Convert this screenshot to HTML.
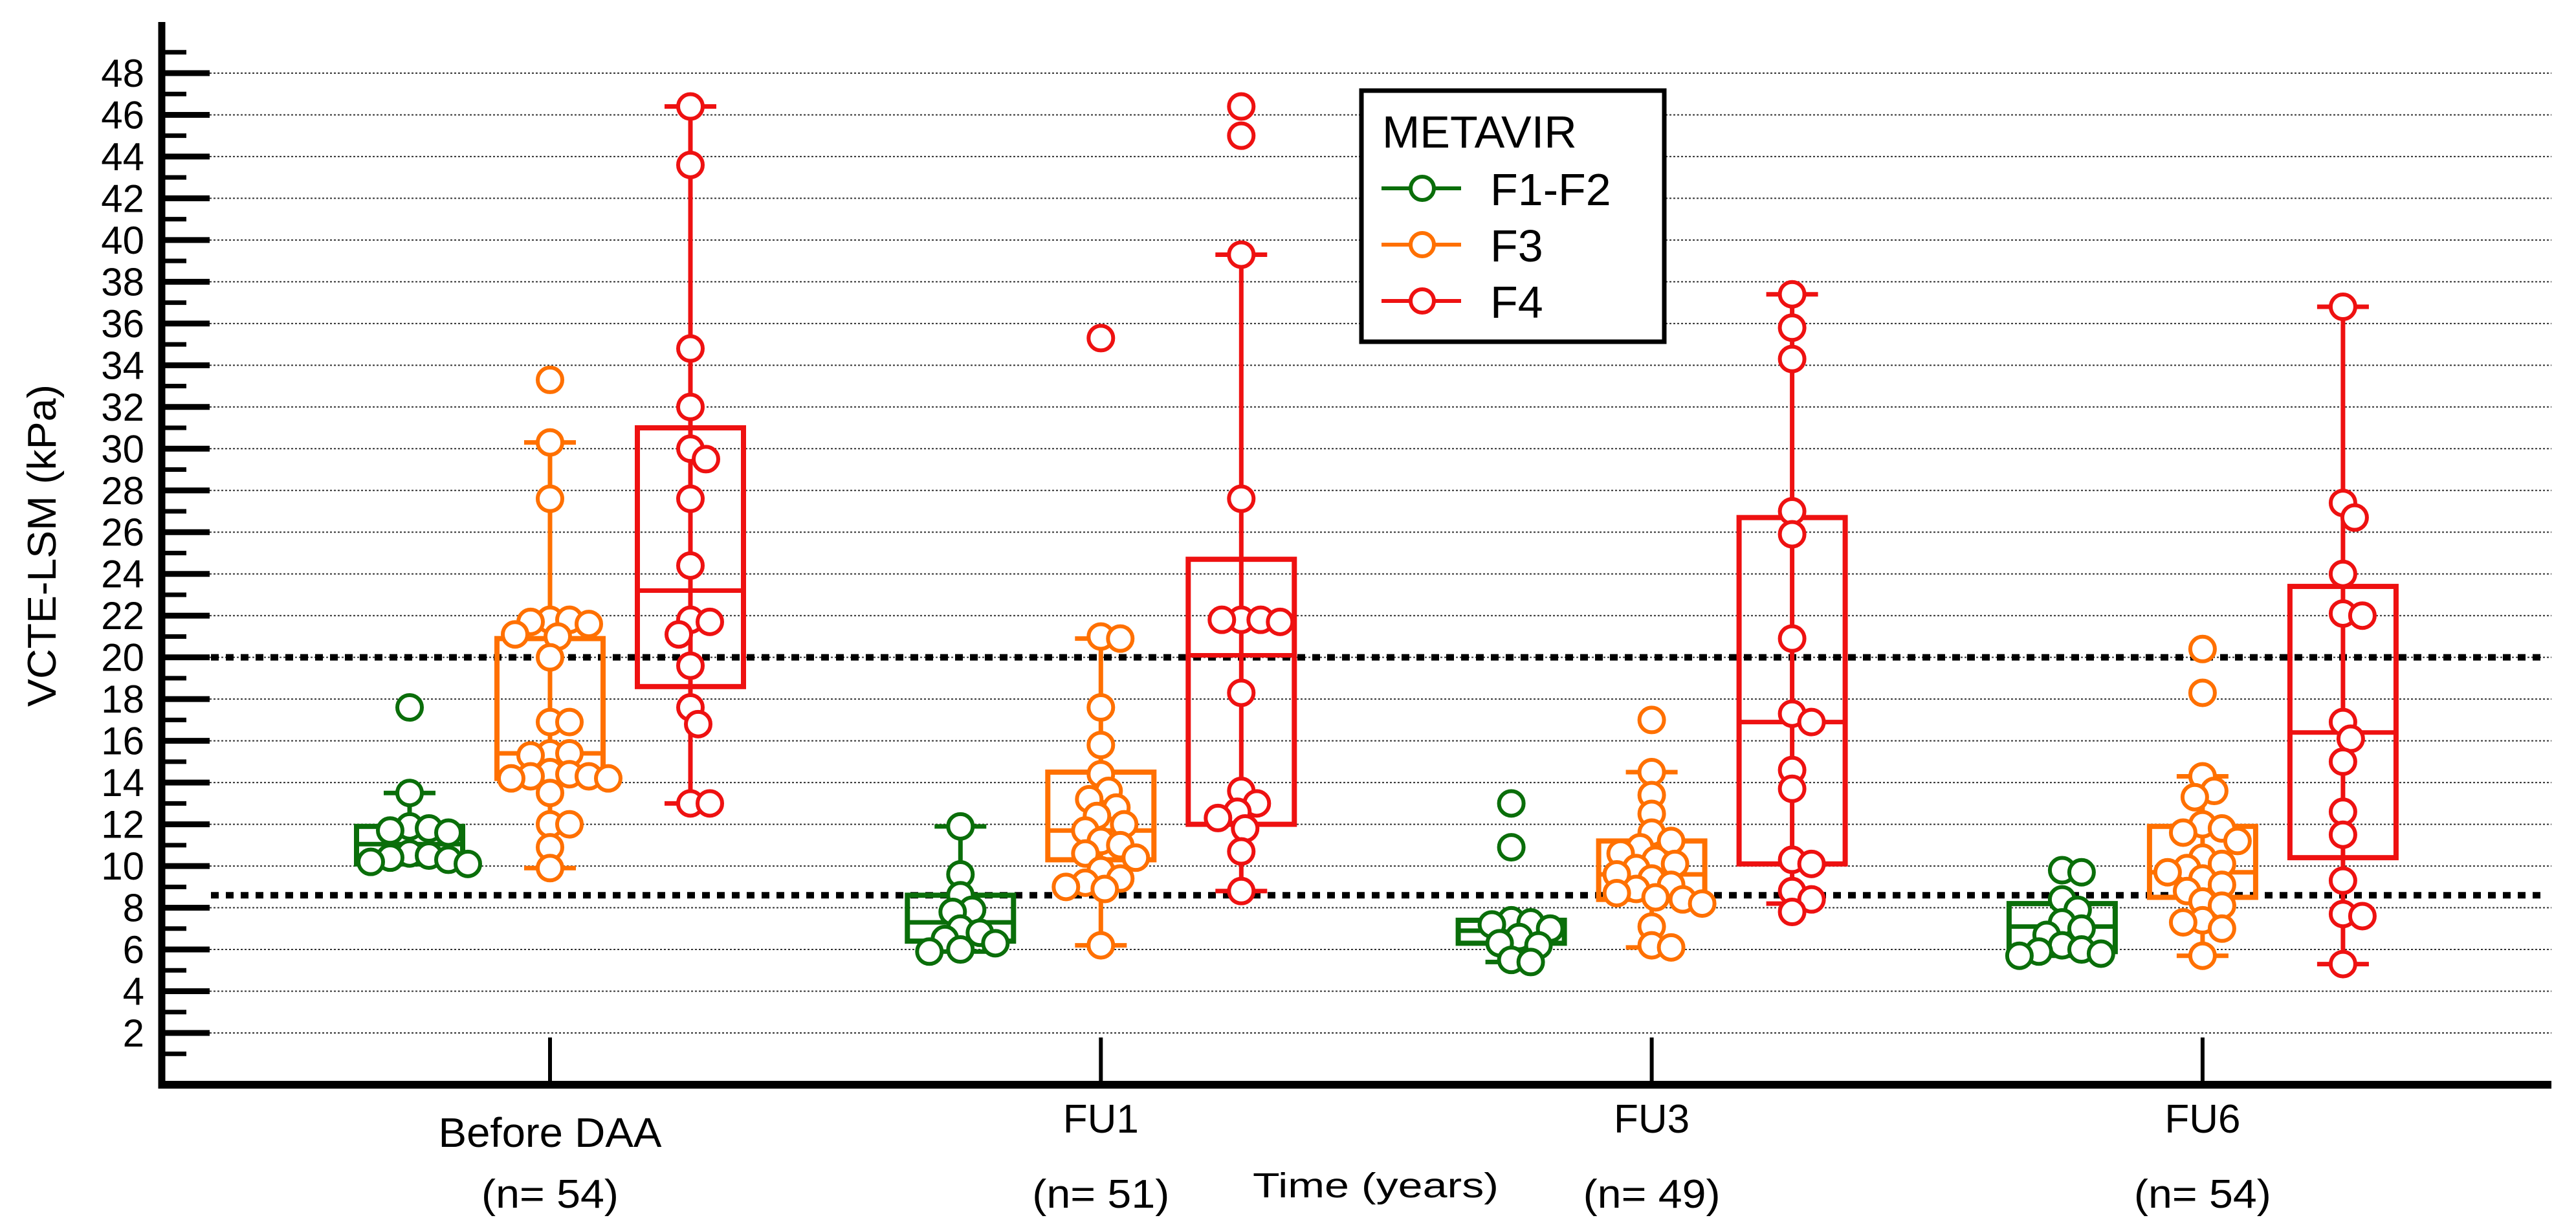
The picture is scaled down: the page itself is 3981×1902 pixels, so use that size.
<!DOCTYPE html>
<html><head><meta charset="utf-8"><style>
html,body{margin:0;padding:0;background:#fff}
svg{display:block}
</style></head><body>
<svg id="chart" width="3981" height="1902" viewBox="0 0 3981 1902" xmlns="http://www.w3.org/2000/svg" font-family="'Liberation Sans', sans-serif">
<g id="grid"></g>
<g id="refs"></g>
<g id="marks"></g>
<g id="axes"></g>
<text x="0" y="0" transform="translate(86,843) rotate(-90)" text-anchor="middle" font-size="62" textLength="498" lengthAdjust="spacingAndGlyphs">VCTE-LSM (kPa)</text>
<text x="2126" y="1850" text-anchor="middle" font-size="54" textLength="380" lengthAdjust="spacingAndGlyphs">Time (years)</text>
<g>
<rect x="2104" y="140" width="468" height="388" fill="#fff" stroke="#000" stroke-width="7"/>
<text x="2136" y="228" font-size="70">METAVIR</text>
<g><line x1="2135" y1="291" x2="2258" y2="291" stroke="#0a6e0a" stroke-width="6"/><circle cx="2198" cy="291" r="18" fill="#fff" stroke="#0a6e0a" stroke-width="6"/><text x="2303" y="317" font-size="70">F1-F2</text></g>
<g><line x1="2135" y1="378" x2="2258" y2="378" stroke="#ff7000" stroke-width="6"/><circle cx="2198" cy="378" r="18" fill="#fff" stroke="#ff7000" stroke-width="6"/><text x="2303" y="404" font-size="70">F3</text></g>
<g><line x1="2135" y1="465" x2="2258" y2="465" stroke="#ee1111" stroke-width="6"/><circle cx="2198" cy="465" r="18" fill="#fff" stroke="#ee1111" stroke-width="6"/><text x="2303" y="491" font-size="70">F4</text></g>
</g>
</svg>
<script>
const categories = ["Before DAA","FU1","FU3","FU6"];
const sampleSizes = ["(n= 54)","(n= 51)","(n= 49)","(n= 54)"];
const seriesNames = ["F1-F2","F3","F4"];
const yTicks = [2,4,6,8,10,12,14,16,18,20,22,24,26,28,30,32,34,36,38,40,42,44,46,48];
const refValues = [20, 8.6];
// box stats per series per category: [whiskerLow, q1, median, q3, whiskerHigh]
const boxF12 = [[10.1,10.1,11.05,11.9,13.5],[5.9,6.4,7.3,8.6,11.9],[5.4,6.3,6.9,7.4,7.4],[5.7,5.9,7.1,8.2,8.2]];
const boxF3 = [[9.9,14.2,15.4,20.9,30.3],[6.2,10.3,11.7,14.5,20.9],[6.1,8.4,9.6,11.2,14.5],[5.7,8.5,9.7,11.9,14.3]];
const boxF4 = [[13.0,18.6,23.2,31.0,46.4],[8.8,12.0,20.1,24.7,39.3],[8.2,10.1,16.9,26.7,37.4],[5.3,10.4,16.4,23.4,36.8]];
// individual observations
const ptsF12 = [
 [17.6,13.5,11.9,11.8,11.7,11.6,10.6,10.5,10.4,10.3,10.2,10.1],
 [11.9,9.6,8.6,7.9,7.8,7.0,6.8,6.5,6.3,6.0,5.9],
 [13.0,10.9,7.4,7.3,7.2,7.0,6.6,6.3,6.2,5.5,5.4],
 [9.8,9.7,8.4,7.9,7.3,7.0,6.7,6.2,6.0,5.9,5.8,5.7]];
const ptsF3 = [
 [33.3,30.3,27.6,21.8,21.8,21.7,21.6,21.1,21.0,20.0,16.9,16.9,15.4,15.4,15.3,14.5,14.4,14.3,14.3,14.2,14.2,13.5,12.0,12.0,10.9,9.9],
 [21.0,20.9,17.6,15.8,14.4,13.6,13.2,12.8,12.4,12.0,11.7,11.2,11.0,10.6,10.4,9.8,9.4,9.2,9.0,8.9,6.2],
 [17.0,14.5,13.4,12.5,11.6,11.2,10.9,10.6,10.3,10.1,9.9,9.6,9.4,9.1,8.9,8.7,8.5,8.4,8.2,7.1,6.2,6.1],
 [20.4,18.3,14.3,13.6,13.3,12.0,11.8,11.6,11.2,10.4,10.1,9.9,9.7,9.4,9.1,8.8,8.3,8.1,7.4,7.3,7.0,5.7]];
const ptsF4 = [
 [46.4,43.6,34.8,32.0,30.0,29.5,27.6,24.4,21.8,21.7,21.1,19.6,17.6,16.8,13.0,13.0],
 [46.4,45.0,39.3,27.6,21.8,21.8,21.8,21.7,18.3,13.6,13.0,12.6,12.3,11.8,10.7,8.8],
 [37.4,35.8,34.3,27.0,25.9,20.9,17.3,16.9,14.6,13.7,10.3,10.1,8.8,8.4,7.8],
 [36.8,27.4,26.7,24.0,22.1,22.0,16.9,16.1,15.0,12.6,11.5,9.3,7.7,7.6,5.3]];
// stray F4 point drawn at the F3 column in FU1
const strayF4 = [[1, 35.3]];

const NS="http://www.w3.org/2000/svg";
const colors=["#0a6e0a","#ff7000","#ee1111"];
const X0=250, XR=3943, AXY=1676;
function yScale(v){return 1596-(v-2)*32.24;}
function xCat(i){return 850+i*851.3;}
const offs=[-217,0,217];
function mk(tag,attrs,parent){const e=document.createElementNS(NS,tag);for(const k in attrs)e.setAttribute(k,attrs[k]);parent.appendChild(e);return e;}
const grid=document.getElementById('grid'), refs=document.getElementById('refs'), marks=document.getElementById('marks'), axes=document.getElementById('axes');

yTicks.forEach(t=>{
  const l=mk('line',{x1:324,x2:XR,y1:yScale(t),y2:yScale(t),stroke:'#333','stroke-width':2,'stroke-dasharray':'3 3'},grid);
  
  
});
refValues.forEach(v=>{
  const l=mk('line',{x1:326,x2:3935,y1:yScale(v),y2:yScale(v),stroke:'#000','stroke-width':10,'stroke-dasharray':'12 11'},refs);
  
  
});

function swarm(vals,cx){
  const placed=[];const D=28;
  const sorted=vals.slice().sort((a,b)=>b-a);
  sorted.forEach(v=>{
    const y=yScale(v);
    const cands=[0];for(let k=1;k<16;k++){cands.push(k*6,-k*6);}
    let best=0;
    for(const dx of cands){
      let ok=true;
      for(const p of placed){const ddx=p.x-(cx+dx),ddy=p.y-y;if(ddx*ddx+ddy*ddy<D*D){ok=false;break;}}
      if(ok){best=dx;break;}
      best=dx;
    }
    placed.push({x:cx+best,y:y,v:v});
  });
  return placed;
}

const allBoxes=[boxF12,boxF3,boxF4], allPts=[ptsF12,ptsF3,ptsF4];
categories.forEach((c,ci)=>{
  for(let s=0;s<3;s++){
    const g=mk('g',{},marks);
    
    
    const cx=xCat(ci)+offs[s], col=colors[s], b=allBoxes[s][ci];
    mk('line',{x1:cx,x2:cx,y1:yScale(b[4]),y2:yScale(b[0]),stroke:col,'stroke-width':7},g);
    if(b[4]>b[3]) mk('line',{x1:cx-40,x2:cx+40,y1:yScale(b[4]),y2:yScale(b[4]),stroke:col,'stroke-width':7},g);
    if(b[0]<b[1]) mk('line',{x1:cx-40,x2:cx+40,y1:yScale(b[0]),y2:yScale(b[0]),stroke:col,'stroke-width':7},g);
    mk('rect',{x:cx-82,y:yScale(b[3]),width:164,height:yScale(b[1])-yScale(b[3]),fill:'none',stroke:col,'stroke-width':8},g);
    mk('line',{x1:cx-82,x2:cx+82,y1:yScale(b[2]),y2:yScale(b[2]),stroke:col,'stroke-width':7},g);
    swarm(allPts[s][ci],cx).forEach(p=>{
      const ci2=mk('circle',{cx:p.x,cy:p.y,r:19,fill:'#fff',stroke:col,'stroke-width':6},g);
      
      
    });
  }
});
strayF4.forEach(p=>{
  const c=mk('circle',{cx:xCat(p[0]),cy:yScale(p[1]),r:19,fill:'#fff',stroke:colors[2],'stroke-width':6},marks);
  
  
});

// axes
mk('line',{x1:X0,x2:X0,y1:34,y2:AXY+6,stroke:'#000','stroke-width':11},axes);
mk('line',{x1:X0-5,x2:XR,y1:AXY,y2:AXY,stroke:'#000','stroke-width':12},axes);
yTicks.forEach(t=>{
  const y=yScale(t);
  mk('line',{x1:X0,x2:324,y1:y,y2:y,stroke:'#000','stroke-width':9},axes);
  mk('line',{x1:X0,x2:288,y1:yScale(t-1),y2:yScale(t-1),stroke:'#000','stroke-width':7},axes);
  const tx=mk('text',{x:223,y:y+21,'text-anchor':'end','font-size':60},axes);
  tx.textContent=t;
  
  
});
mk('line',{x1:X0,x2:288,y1:yScale(49),y2:yScale(49),stroke:'#000','stroke-width':7},axes);
categories.forEach((c,i)=>{
  const x=xCat(i);
  mk('line',{x1:x,x2:x,y1:1603,y2:AXY,stroke:'#000','stroke-width':6},axes);
  const t=mk('text',{x:x,y:i===0?1772:1750,'text-anchor':'middle','font-size':i===0?64:62},axes);
  t.textContent=c;
  if(i===0){t.setAttribute('textLength','345');t.setAttribute('lengthAdjust','spacingAndGlyphs');}
  
  
  const n=mk('text',{x:x,y:1866,'text-anchor':'middle','font-size':62,textLength:212,lengthAdjust:'spacingAndGlyphs'},axes);
  n.textContent=sampleSizes[i];
  
  
});
</script>
</body></html>
